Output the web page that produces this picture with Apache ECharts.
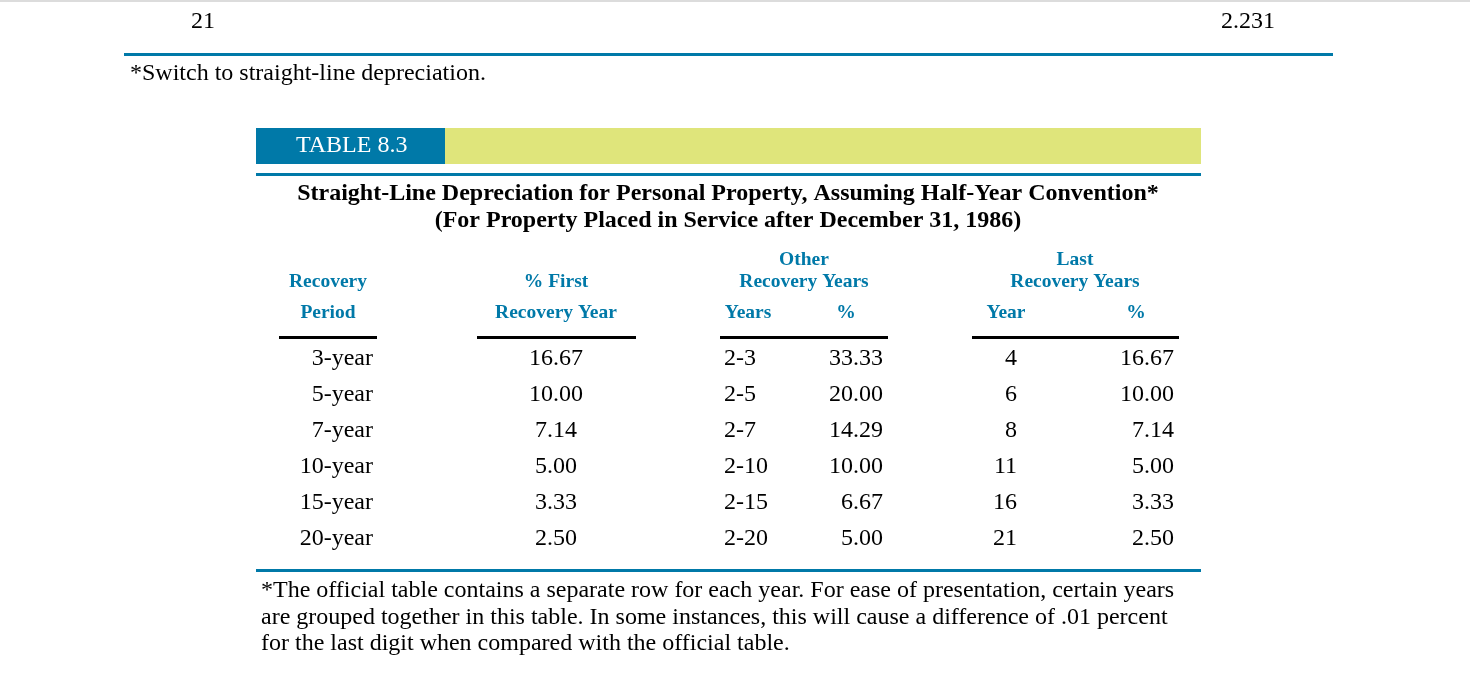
<!DOCTYPE html>
<html><head><meta charset="utf-8">
<script src="https://cdn.jsdelivr.net/npm/echarts@6/dist/echarts.min.js"></script>
<style>html,body{margin:0;padding:0;background:#fff;overflow:hidden}#c{width:1470px;height:684px}</style>
</head><body><div id="c"></div>
<script>
// ---- data ----
const periods = ['3-year','5-year','7-year','10-year','15-year','20-year'];
const firstYearPct = [16.67, 10.00, 7.14, 5.00, 3.33, 2.50];
const otherYears = ['2-3','2-5','2-7','2-10','2-15','2-20'];
const otherPct = [33.33, 20.00, 14.29, 10.00, 6.67, 5.00];
const lastYear = [4, 6, 8, 11, 16, 21];
const lastPct = [16.67, 10.00, 7.14, 5.00, 3.33, 2.50];

// ---- layout / style ----
const SERIF = '"Liberation Serif","Times New Roman",serif';
const TEAL = '#0079a8';
const YELLOW = '#dfe57b';
const INK = '#000';
const FS = 24;
const columns = [
  {vals: periods, x: 373, align: 'right', fmt: v => v},
  {vals: firstYearPct, x: 556, align: 'center', fmt: v => v.toFixed(2)},
  {vals: otherYears, x: 724, align: 'left', fmt: v => v},
  {vals: otherPct, x: 883, align: 'right', fmt: v => v.toFixed(2)},
  {vals: lastYear, x: 1017, align: 'right', fmt: v => String(v)},
  {vals: lastPct, x: 1174, align: 'right', fmt: v => v.toFixed(2)}
];

function txt(x, y, text, o) {
  o = o || {};
  return {type: 'text', x: x, y: y, silent: true, style: {
    text: text, fill: o.fill || INK, align: o.align || 'left', verticalAlign: 'middle',
    font: (o.weight || 'normal') + ' ' + (o.size || FS) + 'px ' + SERIF
  }};
}
function rect(x, y, w, h, fill) {
  return {type: 'rect', silent: true, shape: {x: x, y: y, width: w, height: h}, style: {fill: fill}};
}
const H = {fill: TEAL, weight: 'bold', size: 19.5, align: 'center'};
const T = {weight: 'bold', size: 24, align: 'center'};

const graphics = [
  rect(0, 0, 1470, 2, '#dcdcdc'),
  txt(203, 22, '21', {align: 'center'}),
  txt(1248, 22, '2.231', {align: 'center'}),
  rect(124, 53, 1209, 3, TEAL),
  txt(130, 74, '*Switch to straight-line depreciation.'),
  rect(256, 128, 189, 36, TEAL),
  rect(445, 128, 756, 36, YELLOW),
  txt(296, 146, 'TABLE 8.3', {fill: '#fff'}),
  rect(256, 173, 945, 3, TEAL),
  txt(728, 194, 'Straight-Line Depreciation for Personal Property, Assuming Half-Year Convention*', T),
  txt(728, 221, '(For Property Placed in Service after December 31, 1986)', T),
  txt(328, 282, 'Recovery', H),
  txt(328, 313, 'Period', H),
  txt(556, 282, '% First', H),
  txt(556, 313, 'Recovery Year', H),
  txt(804, 260, 'Other', H),
  txt(804, 282, 'Recovery Years', H),
  txt(748, 313, 'Years', H),
  txt(846, 313, '%', H),
  txt(1075, 260, 'Last', H),
  txt(1075, 282, 'Recovery Years', H),
  txt(1006, 313, 'Year', H),
  txt(1136, 313, '%', H),
  rect(279, 336, 98, 3, '#000'),
  rect(477, 336, 159, 3, '#000'),
  rect(720, 336, 168, 3, '#000'),
  rect(972, 336, 207, 3, '#000'),
  rect(256, 569, 945, 3, TEAL),
  txt(261, 591, '*The official table contains a separate row for each year. For ease of presentation, certain years'),
  txt(261, 618, 'are grouped together in this table. In some instances, this will cause a difference of .01 percent'),
  txt(261, 644, 'for the last digit when compared with the official table.')
];

const series = columns.map(c => ({
  type: 'scatter', symbolSize: 0, silent: true,
  itemStyle: {opacity: 1},
  data: c.vals.map((v, i) => ({value: [c.x, i], raw: v})),
  label: {show: true, position: 'inside', align: c.align, verticalAlign: 'middle',
    fontFamily: SERIF, fontSize: FS, color: INK, opacity: 1,
    formatter: p => c.fmt(p.data.raw)}
}));

const chart = echarts.init(document.getElementById('c'), null, {renderer: 'canvas'});
chart.setOption({
  animation: false,
  backgroundColor: '#fff',
  grid: {left: 0, right: 0, top: 341, height: 216},
  xAxis: {type: 'value', min: 0, max: 1470, show: false},
  yAxis: {type: 'category', data: periods, inverse: true, show: false},
  series: series,
  graphic: graphics
});
</script></body></html>
